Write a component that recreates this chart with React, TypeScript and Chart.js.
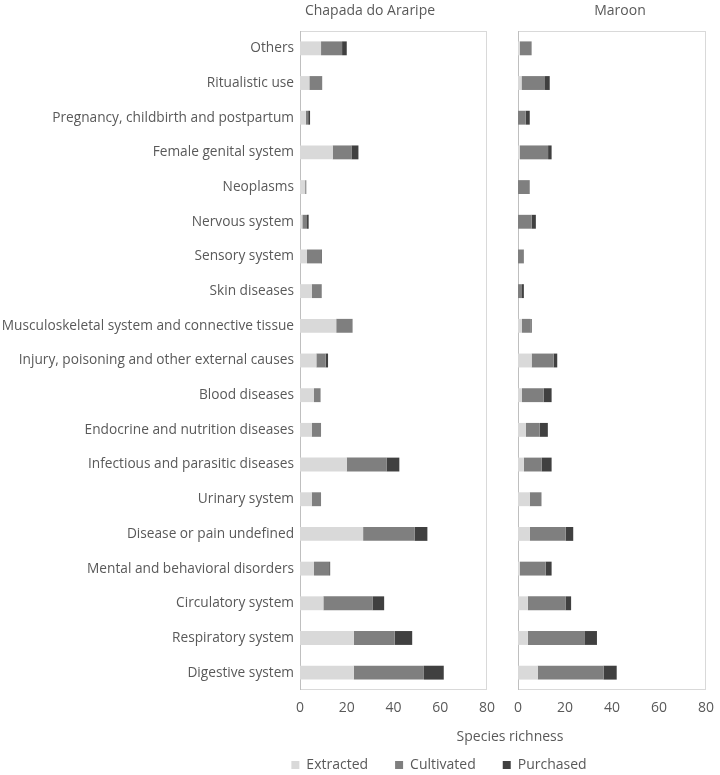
import React, { useEffect, useRef } from 'react';
import { Chart, registerables } from 'chart.js';

Chart.register(...registerables);

// ---------- data ----------
const categories = [
  'Others',
  'Ritualistic use',
  'Pregnancy, childbirth and postpartum',
  'Female genital system',
  'Neoplasms',
  'Nervous system',
  'Sensory system',
  'Skin diseases',
  'Musculoskeletal system and connective tissue',
  'Injury, poisoning and other external causes',
  'Blood diseases',
  'Endocrine and nutrition diseases',
  'Infectious and parasitic diseases',
  'Urinary system',
  'Disease or pain undefined',
  'Mental and behavioral disorders',
  'Circulatory system',
  'Respiratory system',
  'Digestive system',
];

const seriesNames = ['Extracted', 'Cultivated', 'Purchased'];

const chapadaExtracted = [9, 4, 2.5, 14, 2.2, 1, 3, 5, 15.5, 7, 6, 5, 20, 5, 27, 6, 10, 23, 23];
const chapadaCultivated = [9, 5.5, 1, 8, 0.5, 2, 6, 4.3, 7, 4, 2.8, 4, 17, 4, 22, 6.5, 21, 17.5, 30];
const chapadaPurchased = [2, 0, 0.8, 3, 0, 0.7, 0.3, 0, 0, 1, 0, 0, 5.5, 0, 5.5, 0.4, 5, 7.5, 8.5];

const maroonExtracted = [0.8, 1.5, 0, 0.8, 0, 0, 0, 0, 1.7, 5.8, 1.7, 3.4, 2.5, 5, 5, 0.8, 4.2, 4.2, 8.4];
const maroonCultivated = [5, 10, 3.3, 12, 5, 5.8, 2.5, 1.7, 3.6, 9.4, 9.2, 5.8, 7.6, 5, 15.3, 11, 16, 24.3, 28];
const maroonPurchased = [0, 2, 1.7, 1.5, 0, 1.8, 0, 0.8, 0.5, 1.5, 3.4, 3.5, 4.2, 0, 3.2, 2.5, 2.4, 5.1, 5.6];

const xTickValues = [0, 20, 40, 60, 80];

const panelTitles = ['Chapada do Araripe', 'Maroon'];
const axisTitle = 'Species richness';

// ---------- styles ----------
const seriesColors = ['#d9d9d9', '#7f7f7f', '#404040'];
const FONT = "'Open Sans', 'Noto Sans', sans-serif";
const TEXT = '#595959';

Chart.defaults.font.family = FONT;
Chart.defaults.color = TEXT;

function buildDatasets(values: number[][]) {
  return seriesNames.map((name, i) => ({
    label: name,
    data: values[i],
    backgroundColor: seriesColors[i],
    borderWidth: 0,
    barPercentage: 0.5,
    categoryPercentage: 0.8,
  }));
}

const framePlugin = {
  id: 'panelFrame',
  beforeDatasetsDraw(chart: any) {
    const { ctx, chartArea: a } = chart;
    ctx.save();
    ctx.strokeStyle = '#d9d9d9';
    ctx.lineWidth = 1;
    ctx.strokeRect(a.left + 0.5, a.top + 0.5, a.right - a.left - 1, a.bottom - a.top - 1);
    ctx.strokeStyle = '#bfbfbf';
    ctx.beginPath();
    ctx.moveTo(a.left + 0.5, a.top);
    ctx.lineTo(a.left + 0.5, a.bottom);
    ctx.stroke();
    ctx.restore();
  },
};

type TextItem = { text: string; size: number; x: (a: any) => number; y: (a: any) => number };

function makeTextPlugin(items: TextItem[]) {
  return {
    id: 'panelText',
    afterDraw(chart: any) {
      const { ctx, chartArea: a } = chart;
      ctx.save();
      ctx.fillStyle = TEXT;
      ctx.textAlign = 'center';
      ctx.textBaseline = 'middle';
      for (const t of items) {
        ctx.font = `${t.size}px ${FONT}`;
        ctx.fillText(t.text, t.x(a), t.y(a));
      }
      ctx.restore();
    },
  };
}

function xScale(height: number) {
  return {
    stacked: true,
    min: 0,
    max: 80,
    afterBuildTicks: (s: any) => {
      s.ticks = xTickValues.map((v) => ({ value: v }));
    },
    ticks: { padding: 0, color: TEXT, font: { size: 14 }, maxRotation: 0 },
    grid: { display: false, drawTicks: true, tickLength: 10 },
    border: { display: false },
    afterFit: (s: any) => {
      s.height = height;
    },
  };
}

export default function App() {
  const leftRef = useRef<HTMLCanvasElement>(null);
  const rightRef = useRef<HTMLCanvasElement>(null);

  useEffect(() => {
    const left = new Chart(leftRef.current as HTMLCanvasElement, {
      type: 'bar',
      data: {
        labels: categories,
        datasets: buildDatasets([chapadaExtracted, chapadaCultivated, chapadaPurchased]) as any,
      },
      options: {
        indexAxis: 'y',
        responsive: false,
        animation: false,
        layout: { padding: { left: 0, right: 13, top: 31, bottom: 0 } },
        plugins: {
          legend: { display: false },
          title: { display: false },
          tooltip: { enabled: false },
        },
        scales: {
          x: xScale(30) as any,
          y: {
            stacked: true,
            ticks: { padding: 6, color: TEXT, font: { size: 13.7 }, autoSkip: false },
            grid: { display: false, drawTicks: false },
            border: { display: false },
            afterFit: (s: any) => {
              s.width = 300;
            },
          },
        },
      },
      plugins: [
        framePlugin,
        makeTextPlugin([
          { text: panelTitles[0], size: 14, x: (a) => a.left + 70, y: () => 11 },
        ]),
      ],
    });

    const right = new Chart(rightRef.current as HTMLCanvasElement, {
      type: 'bar',
      data: {
        labels: categories,
        datasets: buildDatasets([maroonExtracted, maroonCultivated, maroonPurchased]) as any,
      },
      options: {
        indexAxis: 'y',
        responsive: false,
        animation: false,
        layout: { padding: { left: 172, right: 14, top: 31, bottom: -7 } },
        plugins: {
          legend: {
            display: true,
            position: 'bottom',
            labels: {
              boxWidth: 8,
              boxHeight: 8,
              padding: 27,
              color: TEXT,
              font: { size: 14 },
            },
          },
          title: { display: false },
          tooltip: { enabled: false },
        },
        scales: {
          x: xScale(41) as any,
          y: {
            stacked: true,
            ticks: { display: false },
            grid: { display: false, drawTicks: false },
            border: { display: false },
            afterFit: (s: any) => {
              s.width = 346;
            },
          },
        },
      },
      plugins: [
        framePlugin,
        makeTextPlugin([
          { text: panelTitles[1], size: 14, x: (a) => (a.left + a.right) / 2 + 8, y: () => 11 },
          { text: axisTitle, size: 14, x: (a) => a.left - 8, y: () => 737 },
        ]),
      ],
    });

    return () => {
      left.destroy();
      right.destroy();
    };
  }, []);

  return (
    <div style={{ position: 'absolute', left: 0, top: 0, width: 720, height: 775, overflow: 'hidden', background: '#fff' }}>
      <canvas ref={leftRef} width={500} height={720} style={{ position: 'absolute', left: 0, top: 0, display: 'block' }} />
      <canvas ref={rightRef} width={720} height={775} style={{ position: 'absolute', left: 0, top: 0, display: 'block' }} />
    </div>
  );
}
